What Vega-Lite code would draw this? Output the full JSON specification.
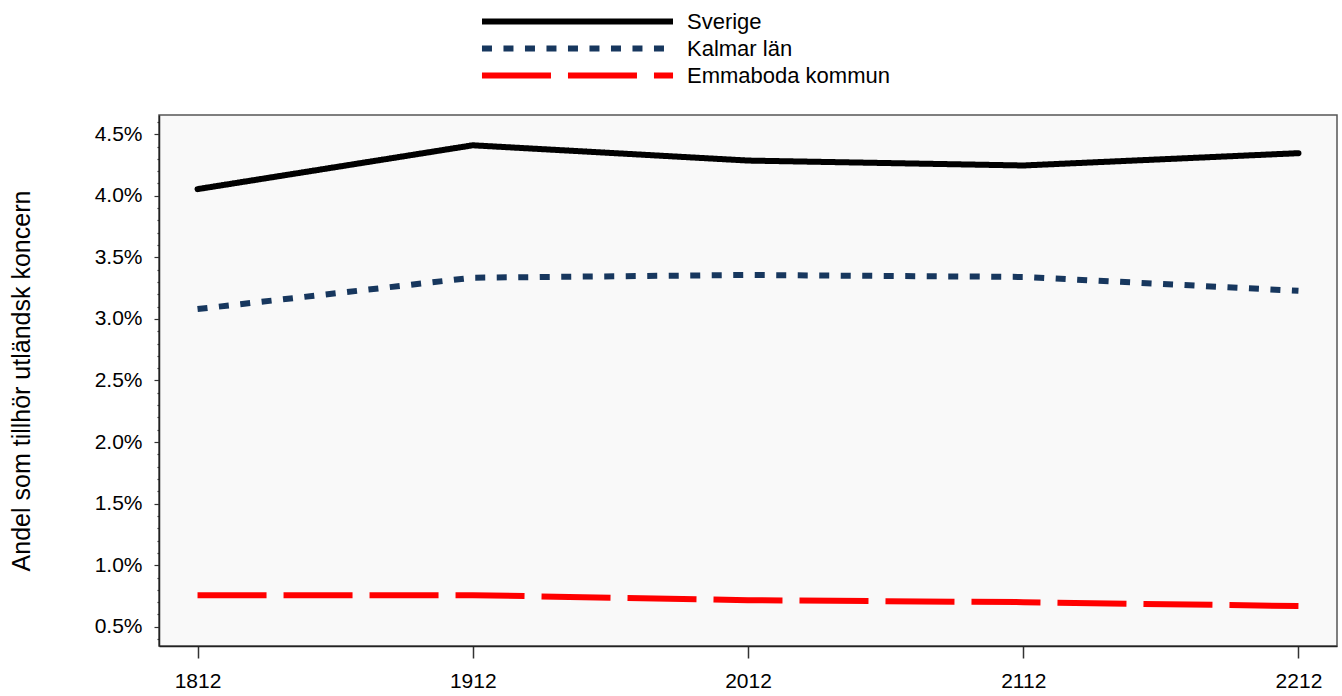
{
  "$schema": "https://vega.github.io/schema/vega-lite/v6.json",
  "width": 1178,
  "height": 531,
  "autosize": {"type": "none"},
  "padding": {"left": 159, "top": 115, "right": 5, "bottom": 50},
  "background": "white",
  "config": {
    "font": "Liberation Sans",
    "view": {"fill": "#F9F9F9", "stroke": "#555555", "strokeWidth": 1.5}
  },
  "data": {
    "values": [
      {"year": "1812", "region": "Sverige", "share": 0.04054},
      {"year": "1912", "region": "Sverige", "share": 0.04410},
      {"year": "2012", "region": "Sverige", "share": 0.04286},
      {"year": "2112", "region": "Sverige", "share": 0.04246},
      {"year": "2212", "region": "Sverige", "share": 0.04346},
      {"year": "1812", "region": "Kalmar län", "share": 0.03080},
      {"year": "1912", "region": "Kalmar län", "share": 0.03335},
      {"year": "2012", "region": "Kalmar län", "share": 0.03357},
      {"year": "2112", "region": "Kalmar län", "share": 0.03341},
      {"year": "2212", "region": "Kalmar län", "share": 0.03228},
      {"year": "1812", "region": "Emmaboda kommun", "share": 0.00757},
      {"year": "1912", "region": "Emmaboda kommun", "share": 0.00757},
      {"year": "2012", "region": "Emmaboda kommun", "share": 0.00716},
      {"year": "2112", "region": "Emmaboda kommun", "share": 0.00700},
      {"year": "2212", "region": "Emmaboda kommun", "share": 0.00668}
    ]
  },
  "encoding": {
    "x": {
      "field": "year", "type": "ordinal",
      "scale": {"type": "point", "padding": 0.14},
      "axis": {
        "title": null, "labelAngle": 0, "labelFontSize": 21, "labelColor": "black",
        "labelPadding": 12, "tickSize": 12, "tickColor": "#333333", "tickWidth": 1.5,
        "domainColor": "#222222", "domainWidth": 1.5, "grid": false
      }
    },
    "y": {
      "field": "share", "type": "quantitative",
      "scale": {"domain": [0.00344, 0.04656], "nice": false, "zero": false},
      "axis": {
        "title": "Andel som tillhör utländsk koncern",
        "titleFontSize": 25, "titleFontWeight": "normal", "titleColor": "black", "titlePadding": 60,
        "values": [0.004,0.005,0.006,0.007,0.008,0.009,0.010,0.011,0.012,0.013,0.014,0.015,0.016,0.017,0.018,0.019,0.020,0.021,0.022,0.023,0.024,0.025,0.026,0.027,0.028,0.029,0.030,0.031,0.032,0.033,0.034,0.035,0.036,0.037,0.038,0.039,0.040,0.041,0.042,0.043,0.044,0.045,0.046],
        "labelExpr": "round(datum.value*1000) % 5 == 0 ? format(datum.value, '.1%') : ''",
        "tickSize": {"condition": {"test": "round(datum.value*1000) % 5 == 0", "value": 5}, "value": 2},
        "labelFontSize": 21, "labelColor": "black", "labelPadding": 12,
        "tickColor": "#333333", "tickWidth": 1.2,
        "domainColor": "#222222", "domainWidth": 1.5, "grid": false
      }
    },
    "color": {
      "field": "region", "type": "nominal",
      "scale": {"domain": ["Sverige", "Kalmar län", "Emmaboda kommun"], "range": ["#000000", "#17375E", "#FF0000"]},
      "legend": {
        "title": null, "orient": "none", "legendX": 405.5, "legendY": -106.5,
        "symbolType": "M-10,0H10", "symbolSize": 365, "symbolStrokeWidth": 6,
        "labelFontSize": 22, "labelColor": "black", "labelOffset": 96.5, "labelLimit": 0,
        "rowPadding": 2, "padding": 0
      }
    },
    "strokeDash": {
      "field": "region", "type": "nominal",
      "scale": {"domain": ["Sverige", "Kalmar län", "Emmaboda kommun"], "range": [[1, 0], [10, 11.5], [69, 17]]},
      "legend": null
    }
  },
  "layer": [
    {
      "transform": [{"filter": "datum.region == 'Sverige'"}],
      "mark": {"type": "line", "strokeWidth": 6, "strokeCap": "round", "strokeJoin": "round"}
    },
    {
      "transform": [{"filter": "datum.region != 'Sverige'"}],
      "mark": {"type": "line", "strokeWidth": 6, "strokeCap": "butt"}
    }
  ]
}
